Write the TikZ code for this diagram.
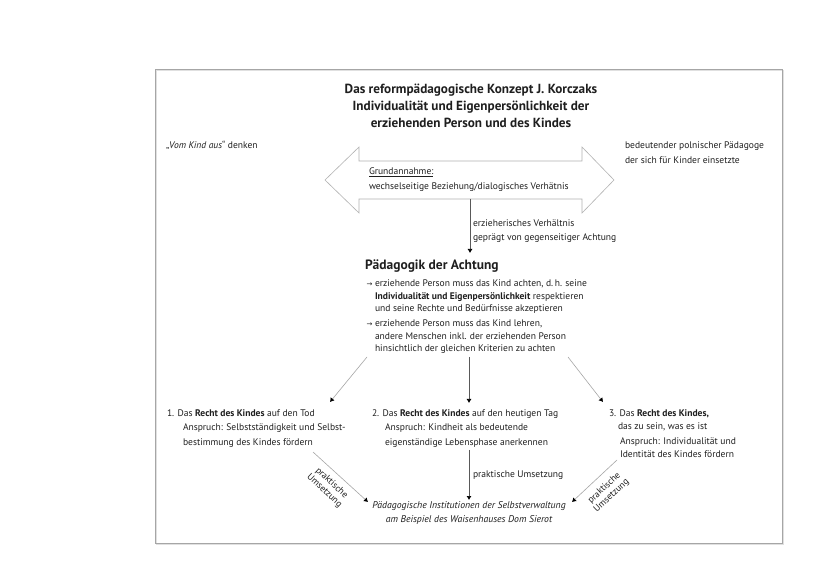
\documentclass[tikz,border=0pt]{standalone}
\usepackage{fontspec}
\setmainfont{PT Sans}
\newfontfamily\symfont{DejaVu Sans}
\usetikzlibrary{arrows.meta}
\newcommand\linesL[1]{\begin{tabular}[t]{@{}l@{}}#1\end{tabular}}
\newcommand\linesC[1]{\begin{tabular}[t]{@{}c@{}}#1\end{tabular}}
\newcommand\bul{\llap{{\symfont\fontsize{7}{8}\selectfont →}\hspace{2.5pt}}}
\begin{document}
\begin{tikzpicture}[x=1pt,y=-1pt,
  every node/.style={inner sep=0pt, outer sep=0pt, text=black!88},
  body/.style={font=\fontsize{9.55}{#1}\selectfont, anchor=base west},
  titlestyle/.style={font=\fontsize{13.2}{17}\bfseries\selectfont, anchor=base},
  headstyle/.style={font=\fontsize{13.5}{16}\bfseries\selectfont, anchor=base west},
  bottomstyle/.style={font=\fontsize{9.75}{14}\itshape\selectfont, anchor=base},
  rotlabel/.style={font=\fontsize{9.2}{10.5}\selectfont, align=center},
  dark/.style={draw=black!65, line width=0.6pt, -{Latex[length=4pt,width=5pt,color=black]}},
  light/.style={draw=black!35, line width=0.6pt, -{Latex[length=4pt,width=5pt,color=black]}},
  outline/.style={draw=black!30, line width=0.6pt}
]
\useasboundingbox[fill=white] (0,0) rectangle (828,585);
% frame
\draw[black!12, line width=1.2pt] (156.5,70.5) rectangle (783.5,544.5);
\draw[black!35, line width=0.9pt] (155,69) rectangle (782,543);

% title
\node[titlestyle] (title) at (471,94) {\linesC{Das reformpädagogische Konzept J. Korczaks\\Individualität und Eigenpersönlichkeit der\\erziehenden Person und des Kindes}};

% side notes
\node[body=12] (vomkind) at (166,148.9) {„\textit{Vom Kind aus}“ denken};
\node[body=14.5] (paedagoge) at (625,148.9) {\linesL{bedeutender polnischer Pädagoge\\der sich für Kinder einsetzte}};

% double arrow
\draw[outline] (325,180) -- (359,147) -- (359,161) -- (582,161) -- (582,147) -- (614,180)
  -- (582,213) -- (582,199) -- (359,199) -- (359,213) -- cycle;
\node[body=15] (grund) at (369,174.9) {\linesL{\underline{Grundannahme:}\\wechselseitige Beziehung/dialogisches Verhätnis}};
\coordinate (shaftbottom) at (470,199);

% educational relation
\node[body=13.5] (verh) at (473,226.9) {\linesL{erzieherisches Verhältnis\\geprägt von gegenseitiger Achtung}};
\node[headstyle] (achtung) at (365,269.5) {Pädagogik der Achtung};
\coordinate (achtungtop) at (470,253);
\draw[dark] (shaftbottom) -- (achtungtop);

\node[body=12.4] (bullet1) at (375,286.9) {\linesL{\bul erziehende Person muss das Kind achten, d.\,h. seine\\\textbf{Individualität und Eigenpersönlichkeit} respektieren\\und seine Rechte und Bedürfnisse akzeptieren}};
\node[body=12.4] (bullet2) at (375,326.9) {\linesL{\bul erziehende Person muss das Kind lehren,\\andere Menschen inkl. der erziehenden Person\\hinsichtlich der gleichen Kriterien zu achten}};

\coordinate (b2left) at (367,357);
\coordinate (b2mid) at (469,357);
\coordinate (b2right) at (568,357);

% three rights
\node[body=12] (recht1) at (167,416.9) {1. Das \textbf{Recht des Kindes} auf den Tod};
\node[body=14.5] (anspruch1) at (183,430.9) {\linesL{Anspruch: Selbstständigkeit und Selbst-\\bestimmung des Kindes fördern}};
\node[body=12] (recht2) at (372,416.9) {2. Das \textbf{Recht des Kindes} auf den heutigen Tag};
\node[body=14.5] (anspruch2) at (385,430.9) {\linesL{Anspruch: Kindheit als bedeutende\\eigenständige Lebensphase anerkennen}};
\node[body=13] (recht3) at (609,416.9) {\linesL{3. Das \textbf{Recht des Kindes,}\\\hspace*{9pt}das zu sein, was es ist}};
\node[body=13] (anspruch3) at (620,444.9) {\linesL{Anspruch: Individualität und\\Identität des Kindes fördern}};

\coordinate (r1tip) at (330,402);
\coordinate (r2tip) at (469,403);
\coordinate (r3tip) at (603,402);
\draw[light] (b2left) -- (r1tip);
\draw[dark] (b2mid) -- (r2tip);
\draw[light] (b2right) -- (r3tip);

% practical implementation
\node[bottomstyle] (inst) at (469,508.9) {\linesC{Pädagogische Institutionen der Selbstverwaltung\\am Beispiel des Waisenhauses Dom Sierot}};
\coordinate (a1bottom) at (313,452);
\coordinate (a2bottom) at (469,450);
\coordinate (a3bottom) at (617,460);
\coordinate (insttipl) at (368,502);
\coordinate (insttipm) at (469,500);
\coordinate (insttipr) at (572,502);
\draw[light] (a1bottom) -- (insttipl);
\draw[dark] (a2bottom) -- (insttipm);
\draw[light] (a3bottom) -- (insttipr);
\node[body=12] (umsetzungm) at (473,477.9) {praktische Umsetzung};
\node[rotlabel, rotate=-43] (umsetzungl) at (328,487) {praktische\\Umsetzung};
\node[rotlabel, rotate=43] (umsetzungr) at (608,492) {praktische\\Umsetzung};
\end{tikzpicture}
\end{document}
